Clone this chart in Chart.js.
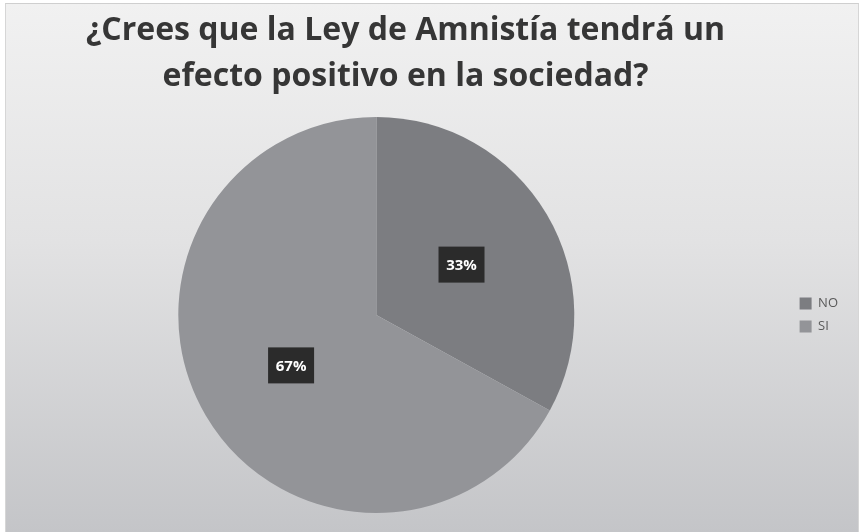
<!DOCTYPE html>
<html lang="es">
<head>
<meta charset="utf-8">
<title>Ley de Amnistía</title>
<script src="https://cdn.jsdelivr.net/npm/chart.js@4"></script>
<style>
  html, body { margin: 0; padding: 0; background: #ffffff; }
  #frame {
    position: absolute;
    left: 5px;
    top: 3px;
    width: 852px;
    height: 528px;
    overflow: hidden;
    border-top: 1px solid #cfcfcf;
    border-left: 1px solid #d6d6d6;
    border-right: 1px solid #d6d6d6;
    background: linear-gradient(to bottom, #f1f1f1 0%, #e2e2e3 45%, #c4c5c8 100%);
  }
  /* canvas runs a little past the left edge so the pie sits left of the legend gap */
  #pie { position: absolute; left: -43px; top: 0; display: block; }
</style>
</head>
<body>
<div id="frame"><canvas id="pie" width="895" height="528"></canvas></div>
<script>
const labels = ['NO', 'SI'];
const values = [33, 67];
const sliceColors = ['#7c7d81', '#939498'];
const titleLines = ['¿Crees que la Ley de Amnistía tendrá un', 'efecto positivo en la sociedad?'];

const fontFamily = '"Open Sans", Lato, sans-serif';

// dark boxed percentage on every slice
const sliceLabels = {
  id: 'sliceLabels',
  afterDatasetsDraw(chart) {
    const ctx = chart.ctx;
    const total = values.reduce((a, b) => a + b, 0);
    chart.getDatasetMeta(0).data.forEach(function(arc, i) {
      const pos = arc.tooltipPosition();
      const text = Math.round(values[i] / total * 100) + '%';
      ctx.save();
      ctx.fillStyle = '#2b2b2b';
      ctx.fillRect(pos.x - 23, pos.y - 18, 46, 36);
      ctx.fillStyle = '#ffffff';
      ctx.font = 'bold 15px ' + fontFamily;
      ctx.textAlign = 'center';
      ctx.textBaseline = 'middle';
      ctx.fillText(text, pos.x, pos.y + 1);
      ctx.restore();
    });
  }
};

const ctx = document.getElementById('pie').getContext('2d');
new Chart(ctx, {
    type: 'pie',
    data: {
        labels: labels,
        datasets: [{
            data: values,
            backgroundColor: sliceColors,
            borderWidth: 0
        }]
    },
    options: {
        responsive: false,
        animation: false,
        layout: {
            padding: { left: 0, right: 10, top: 0, bottom: 19 }
        },
        plugins: {
            title: {
                display: true,
                text: titleLines,
                color: '#363636',
                font: { family: fontFamily, size: 32, weight: 'bold', lineHeight: '46px' },
                padding: { top: 4, bottom: 17 }
            },
            legend: {
                position: 'right',
                fullSize: false,
                labels: {
                    boxWidth: 12,
                    boxHeight: 12,
                    padding: 10,
                    color: '#595959',
                    font: { family: fontFamily, size: 13 }
                }
            },
            tooltip: { enabled: false }
        }
    },
    plugins: [sliceLabels]
});
</script>
</body>
</html>
